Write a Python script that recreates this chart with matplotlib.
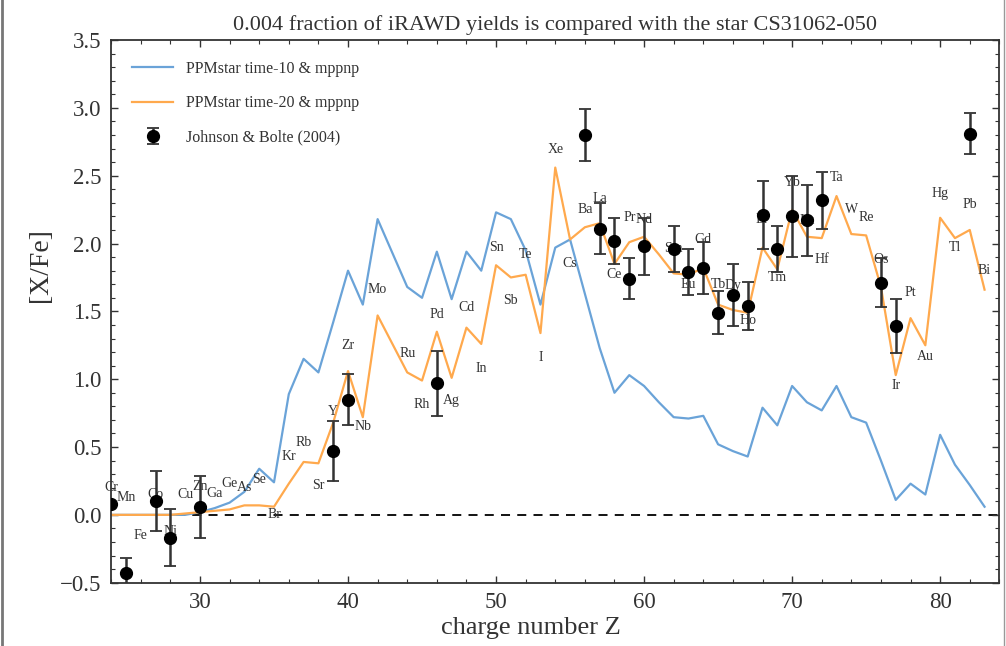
import matplotlib
matplotlib.use("Agg")
import matplotlib.pyplot as plt
from matplotlib.ticker import MultipleLocator

plt.rcParams['font.family'] = ['Liberation Serif', 'DejaVu Serif']
plt.rcParams['mathtext.fontset'] = 'stix'

# ---------------- data ----------------
Z = list(range(24, 84))
elements = ['Cr', 'Mn', 'Fe', 'Co', 'Ni', 'Cu', 'Zn', 'Ga', 'Ge', 'As', 'Se', 'Br',
            'Kr', 'Rb', 'Sr', 'Y', 'Zr', 'Nb', 'Mo', 'Tc', 'Ru', 'Rh', 'Pd', 'Ag',
            'Cd', 'In', 'Sn', 'Sb', 'Te', 'I', 'Xe', 'Cs', 'Ba', 'La', 'Ce', 'Pr',
            'Nd', 'Pm', 'Sm', 'Eu', 'Gd', 'Tb', 'Dy', 'Ho', 'Er', 'Tm', 'Yb', 'Lu',
            'Hf', 'Ta', 'W', 'Re', 'Os', 'Ir', 'Pt', 'Au', 'Hg', 'Tl', 'Pb', 'Bi']

time10 = [0.00, 0.00, 0.00, 0.00, 0.00, 0.00, 0.02, 0.05, 0.09, 0.17, 0.34, 0.24,
          0.89, 1.15, 1.05, 1.42, 1.80, 1.55, 2.18, 1.93, 1.68, 1.60, 1.94, 1.59,
          1.94, 1.80, 2.23, 2.18, 1.95, 1.55, 1.97, 2.03, 1.63, 1.23, 0.90, 1.03,
          0.95, 0.83, 0.72, 0.71, 0.73, 0.52, 0.47, 0.43, 0.79, 0.66, 0.95, 0.83,
          0.77, 0.95, 0.72, 0.68, 0.40, 0.11, 0.23, 0.15, 0.59, 0.37, 0.22, 0.06]

time20 = [0.00, 0.00, 0.00, 0.00, 0.00, 0.01, 0.02, 0.03, 0.04, 0.07, 0.07, 0.06,
          0.23, 0.39, 0.38, 0.68, 1.06, 0.72, 1.47, 1.26, 1.05, 0.99, 1.35, 1.01,
          1.38, 1.26, 1.84, 1.75, 1.77, 1.34, 2.56, 2.03, 2.12, 2.15, 1.85, 2.01,
          2.05, 1.92, 1.78, 1.77, 1.82, 1.55, 1.51, 1.49, 1.97, 1.81, 2.25, 2.05,
          2.04, 2.35, 2.07, 2.06, 1.68, 1.03, 1.45, 1.25, 2.19, 2.04, 2.10, 1.66]

obs_Z = [24, 25, 27, 28, 30, 39, 40, 46, 56, 57, 58, 59, 60, 62, 63, 64, 65,
         66, 67, 68, 69, 70, 71, 72, 76, 77, 82]
obs_val = [0.08, -0.43, 0.10, -0.17, 0.06, 0.47, 0.85, 0.97, 2.80, 2.11, 2.02,
           1.74, 1.98, 1.96, 1.79, 1.82, 1.49, 1.62, 1.54, 2.21, 1.96, 2.20,
           2.17, 2.32, 1.71, 1.39, 2.81]
obs_err = [0.00, 0.11, 0.22, 0.21, 0.23, 0.22, 0.19, 0.24, 0.19, 0.19, 0.17,
           0.15, 0.21, 0.17, 0.17, 0.19, 0.16, 0.23, 0.18, 0.25, 0.17, 0.30,
           0.26, 0.21, 0.18, 0.20, 0.15]

# element label annotation heights (y in data units); None = not shown
label_y = [0.20, 0.13, -0.15, 0.15, -0.12, 0.15, 0.21, 0.16, 0.23, 0.20, 0.26, 0.00,
           0.43, 0.53, 0.22, 0.76, 1.25, 0.65, 1.66, None, 1.19, 0.81, 1.48, 0.84,
           1.53, 1.08, 1.97, 1.58, 1.92, 1.16, 2.69, 1.85, 2.25, 2.33, 1.77, 2.19,
           2.18, None, 1.96, 1.70, 2.03, 1.70, 1.69, 1.43, 2.18, 1.75, 2.45, 2.17,
           1.88, 2.49, 2.25, 2.19, 1.88, 0.95, 1.64, 1.17, 2.37, 1.97, 2.29, 1.80]

title = "0.004 fraction of iRAWD yields is compared with the star CS31062-050"
xlabel = "charge number Z"
ylabel = "[X/Fe]"
leg_labels = ["PPMstar time-10 & mppnp", "PPMstar time-20 & mppnp",
              "Johnson & Bolte (2004)"]

# ---------------- figure ----------------
fig = plt.figure(figsize=(10.06, 6.46), dpi=100)
ax = fig.add_axes([0.1105, 0.098, 0.8829, 0.840])

blue = '#6aa3d8'
orange = '#ffa94d'
ax.plot(Z, time10, color=blue, lw=1.6, label=leg_labels[0])
ax.plot(Z, time20, color=orange, lw=1.6, label=leg_labels[1])
ax.errorbar(obs_Z, obs_val, yerr=obs_err, fmt='o', color='black', ecolor='#333333',
            markersize=8.5, elinewidth=1.8, capsize=4, capthick=1.3,
            label=leg_labels[2], zorder=5)
ax.axhline(0.0, color='black', ls=(0, (5, 4)), lw=1.3, zorder=1)

for z, el, ly in zip(Z, elements, label_y):
    if ly is None:
        continue
    ax.text(z, ly, el, ha='center', va='center', fontsize=10, color='#333333')

ax.set_xlim(24, 84)
ax.set_ylim(-0.5, 3.5)
ax.xaxis.set_major_locator(MultipleLocator(10))
ax.xaxis.set_minor_locator(MultipleLocator(2))
ax.yaxis.set_major_locator(MultipleLocator(0.5))
ax.yaxis.set_minor_locator(MultipleLocator(0.1))
ax.tick_params(which='both', direction='in', top=True, right=True,
               labelsize=16.5, colors='#333333', pad=7)
ax.tick_params(which='major', length=5, width=1.0)
ax.tick_params(which='minor', length=3, width=0.8)
for s in ax.spines.values():
    s.set_color('#333333')
    s.set_linewidth(1.3)

ax.set_title(title, fontsize=16, color='#333333', pad=7)
ax.set_xlabel(xlabel, fontsize=19, color='#333333')
ax.set_ylabel(ylabel, fontsize=20, color='#333333')
ax.xaxis.set_label_coords(0.472, -0.064)
ax.yaxis.set_label_coords(-0.066, 0.585)

leg = ax.legend(loc='upper left', frameon=False, fontsize=11.5, handlelength=2.6,
                labelspacing=1.15, borderaxespad=0.9, handletextpad=0.8)
for t in leg.get_texts():
    t.set_color('#333333')

# thin grey border lines at figure edges
fig.add_artist(plt.Line2D([0.002, 0.002], [0, 1], color='#777777', lw=2,
                          transform=fig.transFigure))
fig.add_artist(plt.Line2D([0.998, 0.998], [0, 1], color='#999999', lw=1,
                          transform=fig.transFigure))

fig.savefig('out.png', dpi=100)
